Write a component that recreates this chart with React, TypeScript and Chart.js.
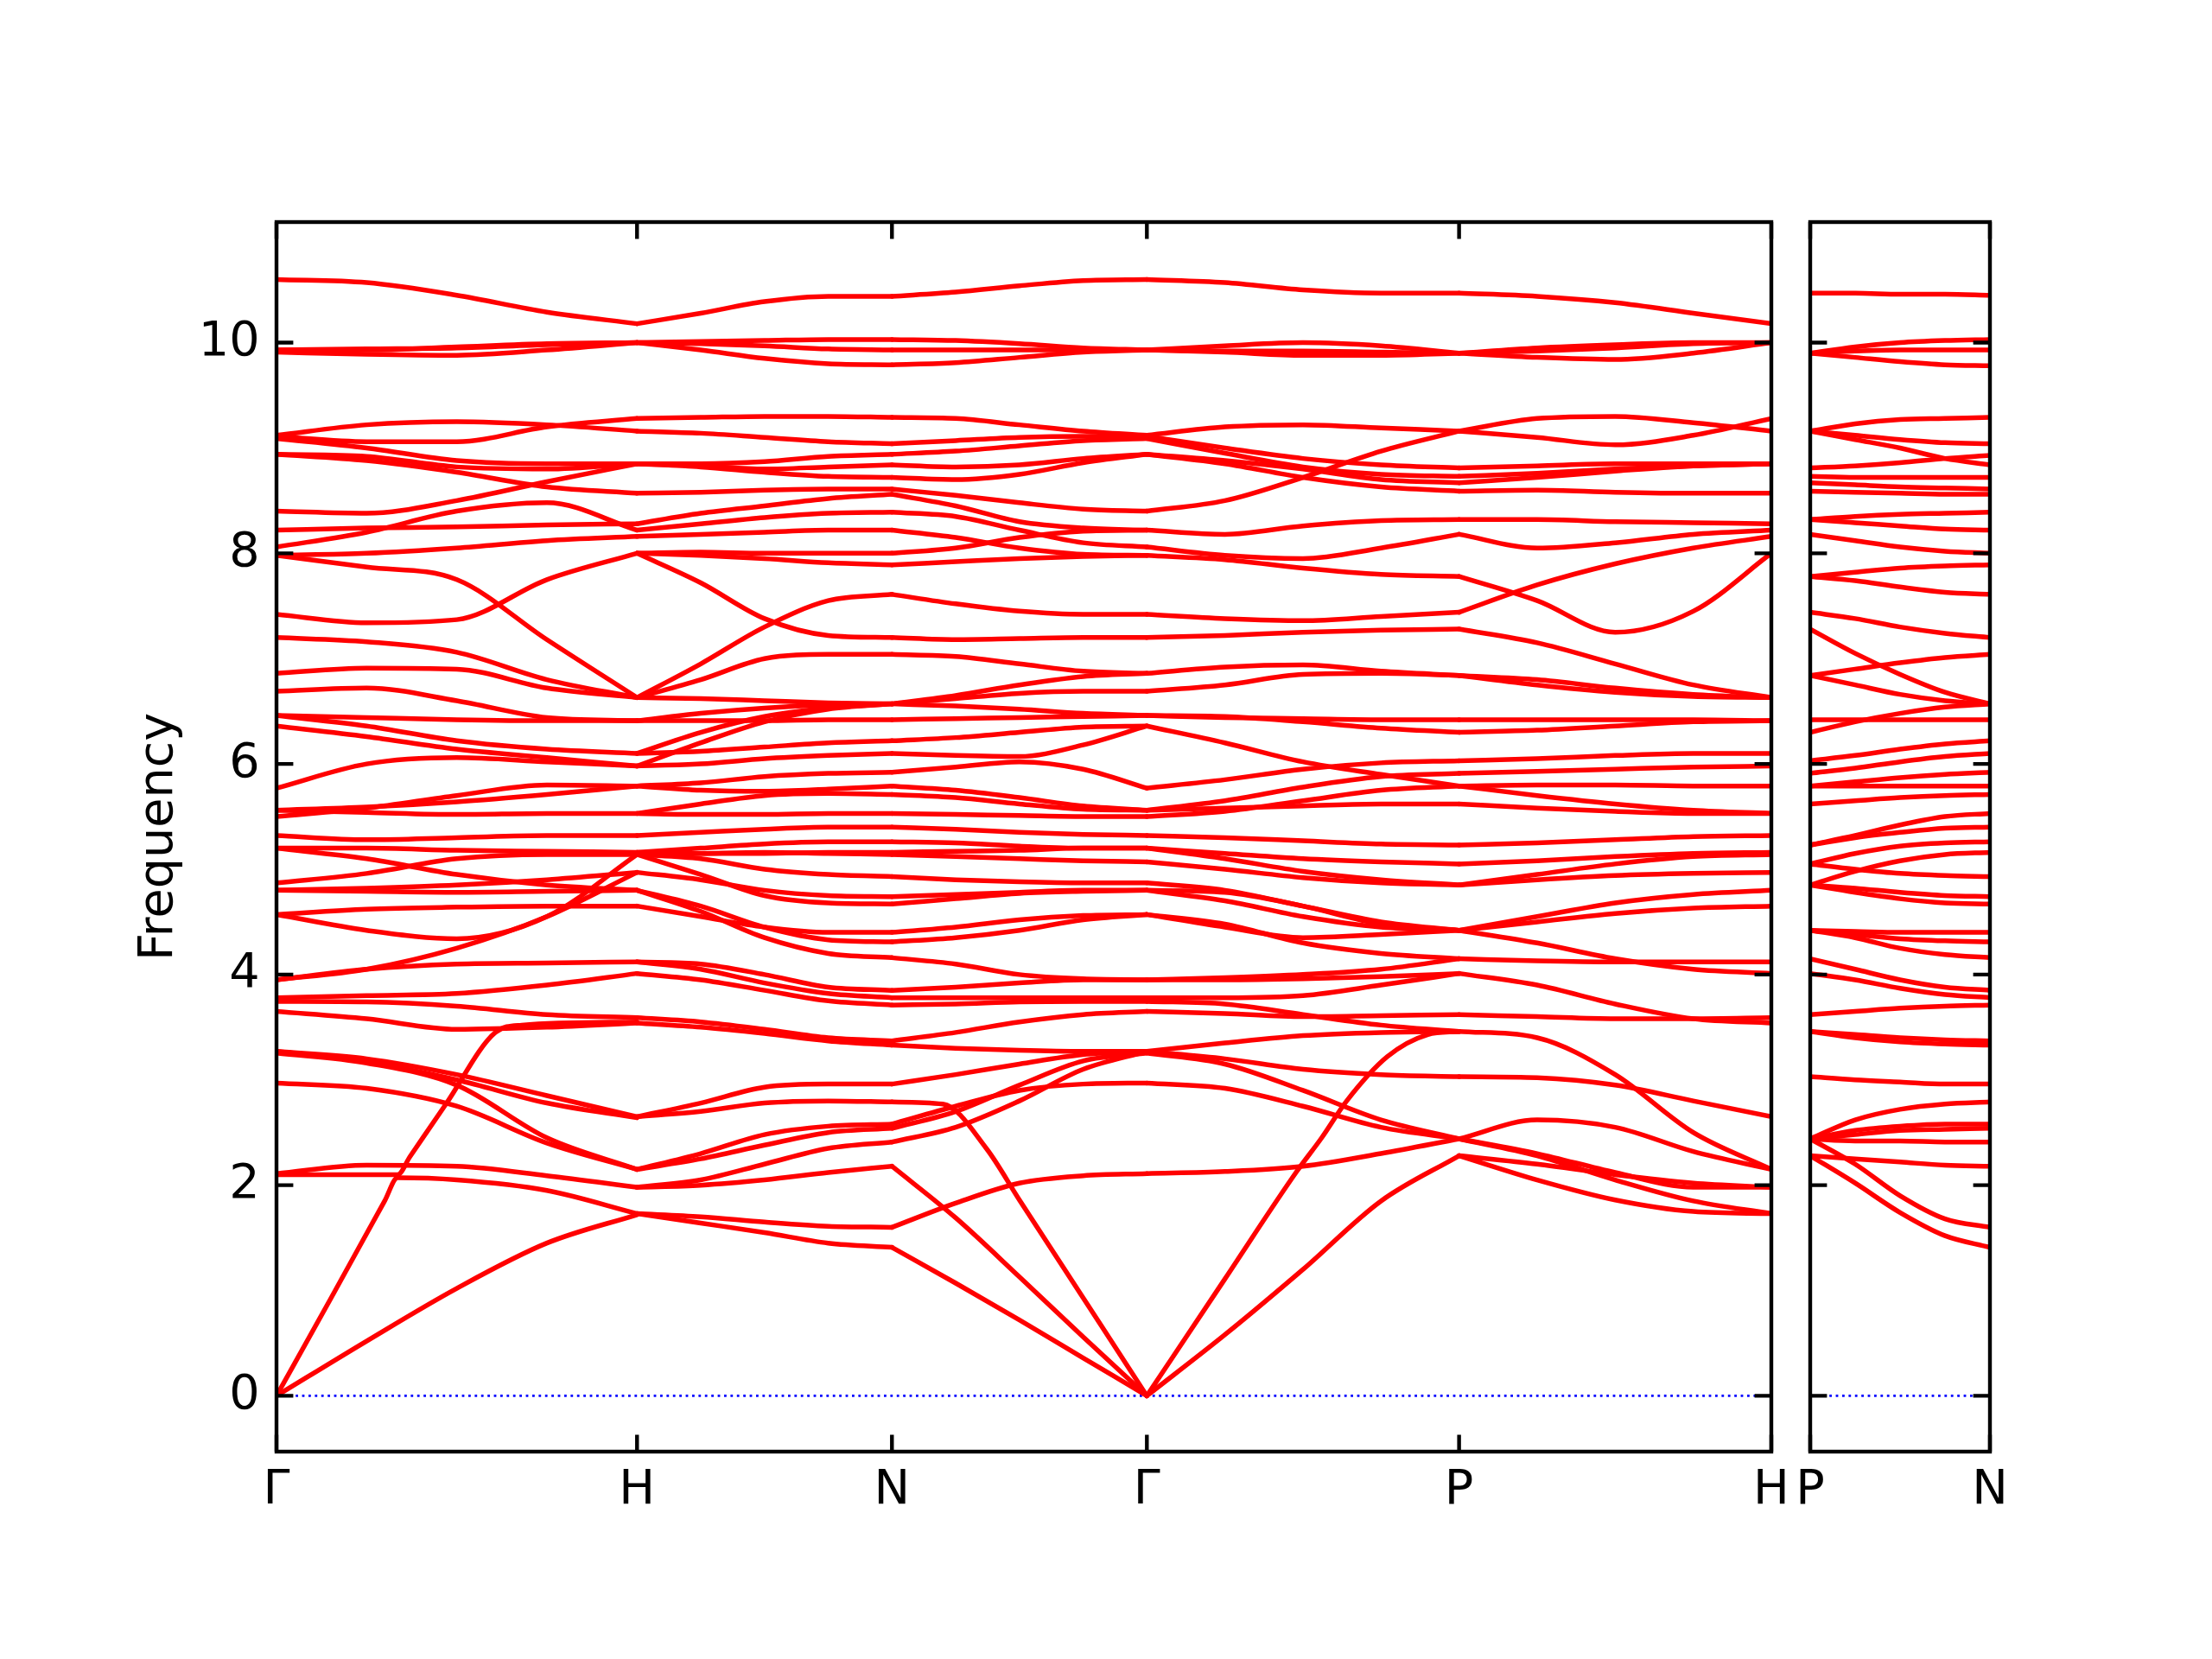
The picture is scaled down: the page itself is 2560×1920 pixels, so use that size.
import React, { useEffect, useRef } from "react";
import { Chart, registerables } from "chart.js";

Chart.register(...registerables);

const FONT = "'DejaVu Sans', 'Liberation Sans', sans-serif";

// ---- q-path (distances, Γ-H = 1) ----
const FR = [0, 0.25, 0.5, 0.75, 1];
const mainSegStart = [0, 1, 1.7071, 2.4142, 3.2802];
const mainSegLen = [1, 0.7071, 0.7071, 0.866, 0.8661];
const mainQMax = 4.1463;
const sideSegStart = [0];
const sideSegLen = [0.5];
const sideQMax = 0.5;
const mainTickQ = [0, 1, 1.7071, 2.4142, 3.2802, 4.1463];
const mainTickLabels = ["Γ", "H", "N", "Γ", "P", "H"];
const sideTickQ = [0, 0.5];
const sideTickLabels = ["P", "N"];
const yTickValues = [0, 2, 4, 6, 8, 10];
const yMin = -0.53;
const yMax = 11.145;

// ---- bands: values at fractions FR of each segment ----
const bandsGH = [
  [10.6, 10.57, 10.45, 10.29, 10.18],
  [9.93, 9.94, 9.95, 9.98, 10.0],
  [9.91, 9.89, 9.88, 9.93, 10.0],
  [9.93, 9.93, 9.96, 9.99, 10.0],
  [9.12, 9.22, 9.25, 9.22, 9.16],
  [9.11, 9.06, 9.06, 9.2, 9.28],
  [9.09, 9.0, 8.88, 8.85, 8.85],
  [8.94, 8.92, 8.82, 8.8, 8.85],
  [8.94, 8.88, 8.77, 8.63, 8.57],
  [8.4, 8.38, 8.5, 8.68, 8.85],
  [8.22, 8.24, 8.25, 8.27, 8.28],
  [8.06, 8.2, 8.4, 8.48, 8.22],
  [7.98, 8.0, 8.05, 8.12, 8.16],
  [7.42, 7.34, 7.37, 7.75, 8.0],
  [7.98, 7.87, 7.75, 7.18, 6.63],
  [7.2, 7.16, 7.06, 6.8, 6.63],
  [6.86, 6.91, 6.9, 6.72, 6.63],
  [6.69, 6.72, 6.6, 6.44, 6.41],
  [6.46, 6.44, 6.42, 6.41, 6.41],
  [6.46, 6.36, 6.22, 6.14, 6.1],
  [6.36, 6.26, 6.14, 6.06, 5.98],
  [5.77, 6.0, 6.06, 6.02, 5.98],
  [5.56, 5.59, 5.64, 5.71, 5.79],
  [5.56, 5.54, 5.52, 5.53, 5.53],
  [5.5, 5.58, 5.7, 5.8, 5.79],
  [5.32, 5.28, 5.3, 5.32, 5.32],
  [5.2, 5.2, 5.18, 5.17, 5.16],
  [5.2, 5.1, 4.95, 4.85, 4.8],
  [4.87, 4.96, 5.1, 5.14, 5.14],
  [4.8, 4.82, 4.85, 4.9, 4.97],
  [4.8, 4.79, 4.78, 4.79, 4.8],
  [4.57, 4.62, 4.64, 4.65, 4.65],
  [4.57, 4.42, 4.34, 4.55, 5.14],
  [3.95, 4.05, 4.25, 4.55, 4.97],
  [3.95, 4.05, 4.1, 4.11, 4.12],
  [3.78, 3.8, 3.82, 3.9, 4.01],
  [3.745, 3.74, 3.7, 3.62, 3.59],
  [3.65, 3.58, 3.48, 3.5, 3.54],
  [3.27, 3.17, 3.0, 2.78, 2.64],
  [3.27, 3.2, 3.05, 2.85, 2.65],
  [3.255, 3.16, 2.95, 2.45, 2.15],
  [2.97, 2.92, 2.75, 2.4, 2.15],
  [2.11, 2.19, 2.18, 2.09, 1.98],
];
const specialGH = [
  [[0, 0], [0.15, 0.92], [0.3, 1.85], [0.336, 2.07], [0.5, 2.05], [0.75, 1.95], [1, 1.73]],
  [[0, 2.1], [0.2, 2.1], [0.336, 2.1], [0.37, 2.27], [0.47, 2.77], [0.607, 3.45], [0.68, 3.52], [1, 3.55]],
  [[0, 0], [0.25, 0.52], [0.5, 1.02], [0.75, 1.45], [1, 1.72]],
];

const bandsHN = [
  [10.18, 10.28, 10.39, 10.44, 10.44],
  [10.0, 10.01, 10.02, 10.03, 10.03],
  [10.0, 9.99, 9.97, 9.94, 9.93],
  [10.0, 9.93, 9.85, 9.8, 9.79],
  [9.28, 9.29, 9.3, 9.3, 9.29],
  [9.16, 9.14, 9.1, 9.06, 9.04],
  [8.85, 8.85, 8.87, 8.92, 8.94],
  [8.85, 8.83, 8.8, 8.82, 8.84],
  [8.85, 8.82, 8.77, 8.73, 8.72],
  [8.57, 8.58, 8.6, 8.61, 8.61],
  [8.28, 8.38, 8.45, 8.52, 8.56],
  [8.22, 8.28, 8.34, 8.38, 8.39],
  [8.16, 8.18, 8.2, 8.22, 8.22],
  [8.0, 8.01, 8.0, 8.0, 8.0],
  [8.0, 7.98, 7.95, 7.91, 7.89],
  [8.0, 7.72, 7.38, 7.22, 7.2],
  [6.63, 6.95, 7.3, 7.55, 7.61],
  [6.63, 6.8, 7.0, 7.04, 7.04],
  [6.63, 6.62, 6.6, 6.58, 6.57],
  [6.41, 6.41, 6.41, 6.42, 6.42],
  [6.41, 6.48, 6.53, 6.56, 6.57],
  [6.1, 6.3, 6.45, 6.53, 6.57],
  [5.98, 6.2, 6.4, 6.52, 6.57],
  [6.1, 6.12, 6.16, 6.2, 6.22],
  [5.98, 6.0, 6.05, 6.08, 6.1],
  [5.79, 5.82, 5.88, 5.91, 5.92],
  [5.79, 5.75, 5.74, 5.76, 5.79],
  [5.53, 5.62, 5.7, 5.72, 5.71],
  [5.53, 5.52, 5.52, 5.53, 5.53],
  [5.32, 5.35, 5.38, 5.4, 5.4],
  [5.16, 5.2, 5.24, 5.26, 5.26],
  [5.16, 5.15, 5.15, 5.16, 5.16],
  [5.14, 5.15, 5.16, 5.15, 5.14],
  [5.14, 5.1, 5.0, 4.95, 4.93],
  [5.14, 4.95, 4.75, 4.68, 4.67],
  [4.97, 4.9, 4.8, 4.75, 4.74],
  [4.8, 4.65, 4.45, 4.33, 4.31],
  [4.8, 4.6, 4.35, 4.2, 4.16],
  [4.65, 4.55, 4.45, 4.4, 4.4],
  [4.12, 4.1, 4.0, 3.88, 3.85],
  [4.12, 4.05, 3.92, 3.82, 3.78],
  [4.01, 3.95, 3.85, 3.75, 3.71],
  [3.59, 3.55, 3.48, 3.4, 3.37],
  [3.54, 3.5, 3.44, 3.37, 3.33],
  [2.65, 2.78, 2.93, 2.96, 2.96],
  [2.65, 2.7, 2.78, 2.8, 2.79],
  [2.15, 2.3, 2.48, 2.56, 2.58],
  [2.15, 2.25, 2.38, 2.5, 2.54],
  [1.98, 2.05, 2.2, 2.35, 2.41],
  [1.98, 2.0, 2.05, 2.12, 2.18],
  [1.73, 1.7, 1.65, 1.61, 1.6],
  [1.73, 1.64, 1.55, 1.45, 1.41],
];

const bandsNG = [
  [10.44, 10.48, 10.54, 10.59, 10.6],
  [10.03, 10.02, 9.99, 9.95, 9.93],
  [9.93, 9.93, 9.93, 9.93, 9.93],
  [9.79, 9.81, 9.86, 9.91, 9.93],
  [9.29, 9.28, 9.22, 9.16, 9.12],
  [9.04, 9.07, 9.1, 9.11, 9.11],
  [8.94, 8.97, 9.02, 9.07, 9.09],
  [8.84, 8.82, 8.84, 8.9, 8.94],
  [8.72, 8.7, 8.75, 8.86, 8.94],
  [8.61, 8.55, 8.48, 8.42, 8.4],
  [8.56, 8.45, 8.3, 8.24, 8.22],
  [8.39, 8.35, 8.22, 8.1, 8.06],
  [8.22, 8.15, 8.05, 7.99, 7.98],
  [8.0, 8.05, 8.15, 8.21, 8.22],
  [7.89, 7.92, 7.95, 7.97, 7.98],
  [7.61, 7.52, 7.45, 7.42, 7.42],
  [7.2, 7.18, 7.19, 7.2, 7.2],
  [7.04, 7.02, 6.95, 6.88, 6.86],
  [6.57, 6.65, 6.75, 6.83, 6.86],
  [6.57, 6.62, 6.67, 6.69, 6.69],
  [6.57, 6.55, 6.52, 6.48, 6.46],
  [6.42, 6.43, 6.44, 6.45, 6.46],
  [6.22, 6.25, 6.3, 6.35, 6.36],
  [6.1, 6.08, 6.07, 6.18, 6.36],
  [5.92, 5.97, 6.02, 5.95, 5.77],
  [5.79, 5.75, 5.68, 5.6, 5.56],
  [5.71, 5.68, 5.62, 5.57, 5.56],
  [5.53, 5.52, 5.51, 5.5, 5.5],
  [5.4, 5.38, 5.35, 5.33, 5.32],
  [5.26, 5.25, 5.22, 5.2, 5.2],
  [5.16, 5.17, 5.18, 5.2, 5.2],
  [5.14, 5.12, 5.1, 5.08, 5.07],
  [4.93, 4.9, 4.88, 4.87, 4.87],
  [4.67, 4.72, 4.77, 4.79, 4.8],
  [4.74, 4.76, 4.78, 4.8, 4.8],
  [4.31, 4.35, 4.42, 4.52, 4.57],
  [4.4, 4.45, 4.52, 4.56, 4.57],
  [4.16, 4.1, 4.0, 3.96, 3.95],
  [3.85, 3.88, 3.92, 3.95, 3.95],
  [3.78, 3.78, 3.78, 3.78, 3.78],
  [3.71, 3.72, 3.74, 3.745, 3.745],
  [3.37, 3.45, 3.55, 3.62, 3.65],
  [3.33, 3.3, 3.28, 3.27, 3.27],
  [2.96, 3.05, 3.15, 3.24, 3.27],
  [2.58, 2.75, 2.9, 2.96, 2.97],
  [2.54, 2.7, 2.95, 3.18, 3.255],
  [2.41, 2.55, 2.8, 3.1, 3.27],
  [1.6, 1.83, 2.02, 2.09, 2.11],
  [1.41, 1.07, 0.72, 0.36, 0.0],
  [2.18, 1.69, 1.13, 0.56, 0.0],
];
const specialNG = [
  [[0, 2.79], [0.2, 2.77], [0.37, 2.35], [0.5, 1.86], [0.75, 0.93], [1, 0]],
];

const bandsGP = [
  [10.6, 10.57, 10.5, 10.47, 10.47],
  [9.93, 9.97, 10.0, 9.97, 9.9],
  [9.93, 9.91, 9.88, 9.88, 9.9],
  [9.93, 9.92, 9.92, 9.91, 9.9],
  [9.12, 9.2, 9.22, 9.19, 9.16],
  [9.11, 9.0, 8.9, 8.84, 8.81],
  [9.09, 8.95, 8.82, 8.75, 8.73],
  [8.94, 8.88, 8.8, 8.7, 8.67],
  [8.94, 8.85, 8.72, 8.63, 8.59],
  [8.4, 8.5, 8.72, 8.97, 9.16],
  [8.22, 8.18, 8.26, 8.31, 8.32],
  [8.06, 7.98, 7.95, 8.05, 8.18],
  [7.98, 7.94, 7.86, 7.8, 7.78],
  [7.42, 7.38, 7.36, 7.4, 7.44],
  [7.2, 7.22, 7.25, 7.27, 7.28],
  [6.86, 6.92, 6.94, 6.88, 6.84],
  [6.69, 6.75, 6.85, 6.86, 6.84],
  [6.46, 6.45, 6.4, 6.34, 6.3],
  [6.46, 6.44, 6.43, 6.42, 6.42],
  [6.36, 6.2, 6.02, 5.9, 5.79],
  [5.77, 5.85, 5.95, 6.01, 6.03],
  [5.56, 5.58, 5.6, 5.62, 5.62],
  [5.56, 5.65, 5.78, 5.88, 5.91],
  [5.5, 5.55, 5.65, 5.75, 5.79],
  [5.32, 5.3, 5.27, 5.24, 5.23],
  [5.2, 5.15, 5.1, 5.07, 5.05],
  [5.2, 5.1, 4.98, 4.9, 4.85],
  [5.07, 5.0, 4.92, 4.87, 4.85],
  [4.87, 4.8, 4.65, 4.5, 4.42],
  [4.8, 4.78, 4.65, 4.48, 4.42],
  [4.8, 4.7, 4.55, 4.45, 4.42],
  [4.57, 4.48, 4.3, 4.2, 4.15],
  [4.57, 4.45, 4.35, 4.38, 4.42],
  [3.95, 3.97, 4.0, 4.05, 4.15],
  [3.95, 3.95, 3.96, 3.98, 4.01],
  [3.78, 3.78, 3.8, 3.9, 4.01],
  [3.745, 3.72, 3.62, 3.52, 3.46],
  [3.65, 3.63, 3.6, 3.61, 3.62],
  [3.27, 3.35, 3.42, 3.45, 3.46],
  [3.27, 3.2, 3.1, 3.05, 3.03],
  [3.255, 3.15, 2.9, 2.62, 2.44],
  [2.97, 2.92, 2.75, 2.55, 2.44],
  [2.11, 2.13, 2.18, 2.3, 2.44],
];
const specialGP = [
  [[0, 0], [0.25, 1.11], [0.48, 2.13], [0.56, 2.45], [0.64, 2.8], [0.77, 3.22], [0.9, 3.43], [1, 3.46]],
  [[0, 0], [0.25, 0.58], [0.5, 1.2], [0.75, 1.85], [1, 2.28]],
];

const bandsPH = [
  [10.47, 10.44, 10.38, 10.28, 10.18],
  [9.9, 9.86, 9.84, 9.9, 10.0],
  [9.9, 9.95, 9.98, 10.0, 10.0],
  [9.9, 9.92, 9.95, 9.99, 10.0],
  [9.16, 9.28, 9.3, 9.24, 9.16],
  [9.16, 9.1, 9.03, 9.12, 9.28],
  [8.81, 8.83, 8.85, 8.85, 8.85],
  [8.73, 8.76, 8.8, 8.83, 8.85],
  [8.67, 8.72, 8.78, 8.83, 8.85],
  [8.59, 8.6, 8.58, 8.57, 8.57],
  [8.32, 8.32, 8.3, 8.29, 8.28],
  [8.18, 8.05, 8.1, 8.18, 8.22],
  [7.78, 7.55, 7.25, 7.45, 8.0],
  [7.44, 7.7, 7.9, 8.05, 8.16],
  [7.28, 7.15, 6.95, 6.75, 6.63],
  [6.84, 6.8, 6.72, 6.66, 6.63],
  [6.84, 6.75, 6.68, 6.64, 6.63],
  [6.42, 6.42, 6.42, 6.42, 6.41],
  [6.3, 6.32, 6.36, 6.4, 6.41],
  [6.03, 6.05, 6.08, 6.1, 6.1],
  [5.91, 5.93, 5.95, 5.97, 5.98],
  [5.79, 5.8, 5.8, 5.79, 5.79],
  [5.79, 5.7, 5.62, 5.56, 5.53],
  [5.62, 5.58, 5.55, 5.53, 5.53],
  [5.23, 5.25, 5.28, 5.31, 5.32],
  [5.05, 5.08, 5.12, 5.15, 5.16],
  [4.85, 4.95, 5.05, 5.12, 5.14],
  [4.85, 4.9, 4.94, 4.96, 4.97],
  [4.42, 4.55, 4.68, 4.76, 4.8],
  [4.42, 4.5, 4.58, 4.63, 4.65],
  [4.42, 4.3, 4.15, 4.05, 4.01],
  [4.15, 4.13, 4.12, 4.12, 4.12],
  [4.01, 3.9, 3.72, 3.58, 3.54],
  [3.62, 3.6, 3.58, 3.58, 3.59],
  [3.46, 3.4, 3.05, 2.5, 2.15],
  [3.03, 3.02, 2.95, 2.8, 2.65],
  [2.44, 2.62, 2.55, 2.32, 2.15],
  [2.44, 2.3, 2.12, 1.98, 1.98],
  [2.44, 2.28, 2.05, 1.85, 1.73],
  [2.28, 2.05, 1.86, 1.75, 1.73],
  [2.28, 2.2, 2.1, 2.02, 1.98],
];

const bandsPN = [
  [10.47, 10.47, 10.46, 10.46, 10.45],
  [9.9, 9.96, 10.0, 10.02, 10.03],
  [9.9, 9.92, 9.93, 9.93, 9.93],
  [9.9, 9.86, 9.82, 9.79, 9.78],
  [9.16, 9.23, 9.27, 9.28, 9.29],
  [9.16, 9.12, 9.08, 9.05, 9.04],
  [9.16, 9.08, 9.0, 8.9, 8.84],
  [8.81, 8.83, 8.86, 8.9, 8.93],
  [8.73, 8.72, 8.72, 8.72, 8.72],
  [8.67, 8.65, 8.63, 8.62, 8.61],
  [8.59, 8.58, 8.57, 8.56, 8.56],
  [8.32, 8.35, 8.37, 8.38, 8.39],
  [8.32, 8.29, 8.26, 8.23, 8.22],
  [8.18, 8.12, 8.06, 8.02, 8.0],
  [7.78, 7.82, 7.86, 7.88, 7.89],
  [7.78, 7.74, 7.68, 7.63, 7.61],
  [7.44, 7.38, 7.3, 7.24, 7.2],
  [7.28, 7.05, 6.85, 6.68, 6.57],
  [6.84, 6.9, 6.96, 7.01, 7.04],
  [6.84, 6.75, 6.66, 6.6, 6.57],
  [6.3, 6.4, 6.48, 6.54, 6.57],
  [6.42, 6.42, 6.42, 6.42, 6.42],
  [6.03, 6.08, 6.14, 6.19, 6.22],
  [5.91, 5.96, 6.02, 6.07, 6.1],
  [5.79, 5.83, 5.87, 5.9, 5.92],
  [5.79, 5.79, 5.79, 5.79, 5.79],
  [5.62, 5.65, 5.68, 5.7, 5.71],
  [5.23, 5.32, 5.42, 5.5, 5.53],
  [5.23, 5.3, 5.35, 5.39, 5.4],
  [5.05, 5.15, 5.22, 5.25, 5.26],
  [4.85, 4.98, 5.08, 5.14, 5.16],
  [5.05, 5.0, 4.96, 4.94, 4.93],
  [4.85, 4.78, 4.72, 4.68, 4.67],
  [4.85, 4.82, 4.78, 4.75, 4.74],
  [4.42, 4.41, 4.4, 4.4, 4.4],
  [4.42, 4.38, 4.34, 4.32, 4.31],
  [4.42, 4.35, 4.25, 4.19, 4.16],
  [4.15, 4.05, 3.95, 3.88, 3.85],
  [4.01, 3.95, 3.87, 3.81, 3.78],
  [3.62, 3.65, 3.68, 3.7, 3.71],
  [3.46, 3.43, 3.4, 3.38, 3.37],
  [3.46, 3.4, 3.36, 3.34, 3.33],
  [3.03, 3.0, 2.98, 2.96, 2.96],
  [2.44, 2.62, 2.72, 2.77, 2.79],
  [2.44, 2.52, 2.56, 2.58, 2.58],
  [2.44, 2.48, 2.52, 2.53, 2.54],
  [2.44, 2.42, 2.42, 2.41, 2.41],
  [2.44, 2.2, 1.9, 1.68, 1.6],
  [2.28, 2.25, 2.22, 2.19, 2.18],
  [2.28, 2.02, 1.74, 1.52, 1.41],
];

const mainBandSets = [bandsGH, bandsHN, bandsNG, bandsGP, bandsPH];
const mainSpecialSets = [specialGH, [], specialNG, specialGP, []];
const sideBandSets = [bandsPN];
const sideSpecialSets: number[][][][] = [[]];

// ---- helpers ----
function lineDataset(data: { x: number; y: number }[]) {
  return {
    data,
    borderColor: "#ff0000",
    borderWidth: 5.5,
    pointRadius: 0,
    fill: false,
    cubicInterpolationMode: "monotone" as const,
    borderCapStyle: "round" as const,
    borderJoinStyle: "round" as const,
  };
}

function buildDatasets(
  starts: number[],
  lens: number[],
  bandSets: number[][][],
  specialSets: number[][][][],
  qMax: number
) {
  const ds: any[] = [];
  bandSets.forEach((bands, s) => {
    bands.forEach((vals) => {
      ds.push(lineDataset(FR.map((f, i) => ({ x: starts[s] + f * lens[s], y: vals[i] }))));
    });
    specialSets[s].forEach((pairs) => {
      ds.push(lineDataset(pairs.map(([f, v]) => ({ x: starts[s] + f * lens[s], y: v }))));
    });
  });
  ds.push({
    data: [
      { x: 0, y: 0 },
      { x: qMax, y: 0 },
    ],
    borderColor: "#0000ff",
    borderWidth: 2.8,
    borderDash: [2.8, 4.6],
    pointRadius: 0,
    fill: false,
    tension: 0,
  });
  return ds;
}

const framePlugin = {
  id: "frame",
  afterDraw(chart: any, _args: any, opts: any) {
    const { ctx, chartArea: a, scales } = chart;
    const L = 19.4;
    ctx.save();
    ctx.strokeStyle = "#000";
    ctx.lineWidth = 4.4;
    ctx.lineCap = "butt";
    ctx.beginPath();
    (opts.xTicks as number[]).forEach((v) => {
      const px = scales.x.getPixelForValue(v);
      ctx.moveTo(px, a.bottom);
      ctx.lineTo(px, a.bottom - L);
      ctx.moveTo(px, a.top);
      ctx.lineTo(px, a.top + L);
    });
    (opts.yTicks as number[]).forEach((v) => {
      const py = scales.y.getPixelForValue(v);
      ctx.moveTo(a.left, py);
      ctx.lineTo(a.left + L, py);
      ctx.moveTo(a.right, py);
      ctx.lineTo(a.right - L, py);
    });
    ctx.stroke();
    ctx.lineJoin = "miter";
    ctx.strokeRect(a.left, a.top, a.right - a.left, a.bottom - a.top);
    ctx.restore();
  },
};

function makeConfig(
  datasets: any[],
  qMax: number,
  xTicks: number[],
  xLabels: string[],
  showY: boolean,
  padding: { left: number; right: number; top: number; bottom: number }
): any {
  return {
    type: "line",
    data: { datasets },
    options: {
      animation: false,
      responsive: false,
      devicePixelRatio: 1,
      events: [],
      layout: { padding },
      plugins: {
        legend: { display: false },
        tooltip: { enabled: false },
        frame: { xTicks, yTicks: yTickValues },
      },
      scales: {
        x: {
          type: "linear",
          min: 0,
          max: qMax,
          afterBuildTicks: (s: any) => {
            s.ticks = xTicks.map((v) => ({ value: v }));
          },
          afterFit: (s: any) => {
            s.height = 100;
          },
          grid: { display: false, drawTicks: false },
          border: { display: false },
          ticks: {
            autoSkip: false,
            maxRotation: 0,
            minRotation: 0,
            padding: 12,
            color: "#000",
            font: { family: FONT, size: 55.6 },
            callback: (_v: any, i: number) => xLabels[i],
          },
        },
        y: {
          type: "linear",
          min: yMin,
          max: yMax,
          display: showY,
          afterBuildTicks: (s: any) => {
            s.ticks = yTickValues.map((v) => ({ value: v }));
          },
          afterFit: (s: any) => {
            if (showY) s.width = 320;
          },
          grid: { display: false, drawTicks: false },
          border: { display: false },
          ticks: {
            padding: 19.4,
            color: "#000",
            font: { family: FONT, size: 55.6 },
            callback: (v: any) => String(v),
          },
          title: {
            display: showY,
            text: "Frequency",
            color: "#000",
            font: { family: FONT, size: 55.6 },
            padding: { top: 151, bottom: 0 },
          },
        },
      },
    },
    plugins: [framePlugin],
  };
}

export default function App() {
  const mainRef = useRef<HTMLCanvasElement>(null);
  const sideRef = useRef<HTMLCanvasElement>(null);

  useEffect(() => {
    const charts: Chart[] = [];
    if (mainRef.current) {
      const ds = buildDatasets(mainSegStart, mainSegLen, mainBandSets, mainSpecialSets, mainQMax);
      charts.push(
        new Chart(
          mainRef.current,
          makeConfig(ds, mainQMax, mainTickQ, mainTickLabels, true, { left: 0, right: 40, top: 257, bottom: 140 })
        )
      );
    }
    if (sideRef.current) {
      const ds = buildDatasets(sideSegStart, sideSegLen, sideBandSets, sideSpecialSets, sideQMax);
      charts.push(
        new Chart(
          sideRef.current,
          makeConfig(ds, sideQMax, sideTickQ, sideTickLabels, false, { left: 35, right: 57, top: 257, bottom: 140 })
        )
      );
    }
    return () => charts.forEach((c) => c.destroy());
  }, []);

  return (
    <div style={{ position: "absolute", left: 0, top: 0, width: 2560, height: 1920, background: "#fff" }}>
      <canvas ref={mainRef} width={2090} height={1920} style={{ position: "absolute", left: 0, top: 0 }} />
      <canvas ref={sideRef} width={300} height={1920} style={{ position: "absolute", left: 2060, top: 0 }} />
    </div>
  );
}
